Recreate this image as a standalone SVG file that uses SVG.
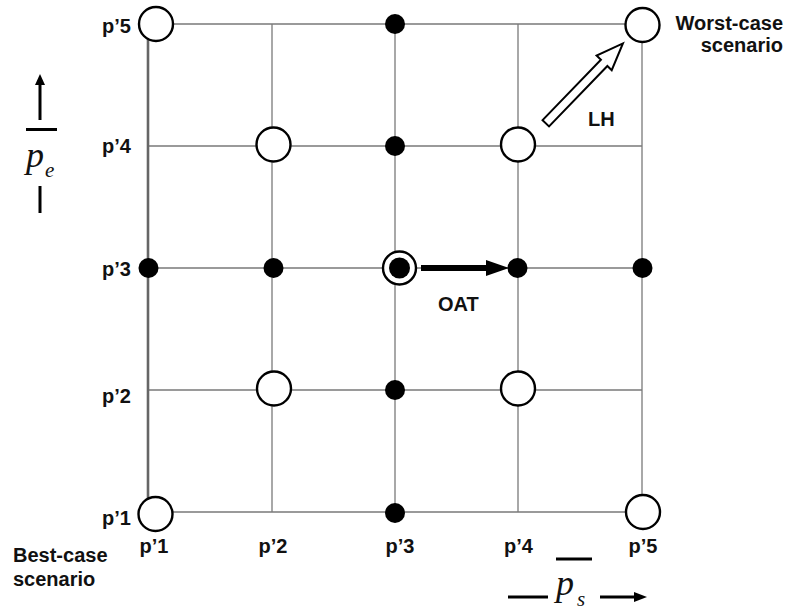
<svg xmlns="http://www.w3.org/2000/svg" width="788" height="610" viewBox="0 0 788 610">
<style>
.g{stroke:#7a7a7a;stroke-width:1.3;fill:none}
.ge{stroke:#666;stroke-width:2.6;fill:none}
.o{fill:#fff;stroke:#000;stroke-width:2.4}
.d{fill:#000}
.t{font-family:"Liberation Sans",Arial,sans-serif;font-weight:bold;font-size:20px;fill:#111}
.m{font-family:"Liberation Serif","Times New Roman",serif;font-style:italic;fill:#111}
</style>
<defs>
<marker id="ah" markerWidth="10" markerHeight="10" refX="0" refY="0" viewBox="0 -5 10 10" orient="auto" markerUnits="userSpaceOnUse">
<path d="M0,-5 L10,0 L0,5 Z" fill="#000"/>
</marker>
</defs>
<rect width="788" height="610" fill="#fff"/>
<g id="grid">
<path class="g" d="M148,24H642 M148,146H642 M148,268H642 M148,390H642 M148,512H642"/>
<path class="g" d="M272,24V512 M395,24V512 M518,24V512 M642,24V512"/>
<path class="ge" d="M148,24V513"/>
</g>
<g id="connectors">
<g id="oat-arrow">
<rect x="421" y="265" width="68" height="6" fill="#000"/>
<path d="M486,260 L509,268 L486,276 Z" fill="#000"/>
</g>
<g id="lh-arrow" transform="translate(545.8,123.3) rotate(-46)">
<path d="M0,-4.5 L84,-4.5 L84,-10.5 L111,0 L84,10.5 L84,4.5 L0,4.5 Z" fill="#fff" stroke="#000" stroke-width="2"/>
</g>
</g>
<g id="n-1-5"><circle class="o" cx="156" cy="24" r="17"/></g>
<g id="n-3-5"><circle class="d" cx="395" cy="24" r="10"/></g>
<g id="n-5-5"><circle class="o" cx="642.5" cy="25" r="17"/></g>
<g id="n-2-4"><circle class="o" cx="273.5" cy="144.5" r="17"/></g>
<g id="n-3-4"><circle class="d" cx="395" cy="146" r="10"/></g>
<g id="n-4-4"><circle class="o" cx="518" cy="144.5" r="17"/></g>
<g id="n-1-3"><circle class="d" cx="148.5" cy="268" r="10"/></g>
<g id="n-2-3"><circle class="d" cx="273.5" cy="268" r="10"/></g>
<g id="n-3-3"><circle class="o" cx="399.5" cy="268" r="16.5"/><circle class="d" cx="399.5" cy="268" r="10.5"/></g>
<g id="n-4-3"><circle class="d" cx="517.5" cy="268" r="10"/></g>
<g id="n-5-3"><circle class="d" cx="642.5" cy="268" r="10"/></g>
<g id="n-2-2"><circle class="o" cx="274" cy="388.5" r="17"/></g>
<g id="n-3-2"><circle class="d" cx="395" cy="390" r="10"/></g>
<g id="n-4-2"><circle class="o" cx="518" cy="388.5" r="17"/></g>
<g id="n-1-1"><circle class="o" cx="155.5" cy="514" r="17"/></g>
<g id="n-3-1"><circle class="d" cx="395" cy="513" r="10"/></g>
<g id="n-5-1"><circle class="o" cx="643" cy="512" r="17"/></g>
<g id="labels">
<text class="t" x="131" y="33" text-anchor="end">p’5</text>
<text class="t" x="131" y="153" text-anchor="end">p’4</text>
<text class="t" x="131" y="276" text-anchor="end">p’3</text>
<text class="t" x="131" y="403" text-anchor="end">p’2</text>
<text class="t" x="131" y="525" text-anchor="end">p’1</text>
<text class="t" x="154" y="553" text-anchor="middle">p’1</text>
<text class="t" x="273" y="553" text-anchor="middle">p’2</text>
<text class="t" x="400" y="553" text-anchor="middle">p’3</text>
<text class="t" x="518.5" y="553" text-anchor="middle">p’4</text>
<text class="t" x="643" y="553" text-anchor="middle">p’5</text>
<text class="t" x="13" y="562">Best-case</text>
<text class="t" x="13" y="586">scenario</text>
<text class="t" x="783" y="30" text-anchor="end">Worst-case</text>
<text class="t" x="783" y="52" text-anchor="end">scenario</text>
<text class="t" x="438" y="311">OAT</text>
<text class="t" x="588" y="126">LH</text>
</g>
<g id="axis-e">
<path d="M40,120V84" stroke="#000" stroke-width="3"/>
<path d="M35,85 L40,74 L45,85 Z" fill="#000"/>
<path d="M26,129.5H57" stroke="#000" stroke-width="3"/>
<text class="m" x="26" y="167" font-size="36">p</text>
<text class="m" x="45" y="177" font-size="21">e</text>
<path d="M40,186V213" stroke="#000" stroke-width="3"/>
</g>
<g id="axis-s">
<path d="M556,559H592" stroke="#000" stroke-width="3"/>
<path d="M508,597H548" stroke="#000" stroke-width="3"/>
<text class="m" x="556" y="595" font-size="36">p</text>
<text class="m" x="577" y="606" font-size="21">s</text>
<path d="M600,597H635" stroke="#000" stroke-width="3"/>
<path d="M634,592 L647,597 L634,602 Z" fill="#000"/>
</g>
</svg>
